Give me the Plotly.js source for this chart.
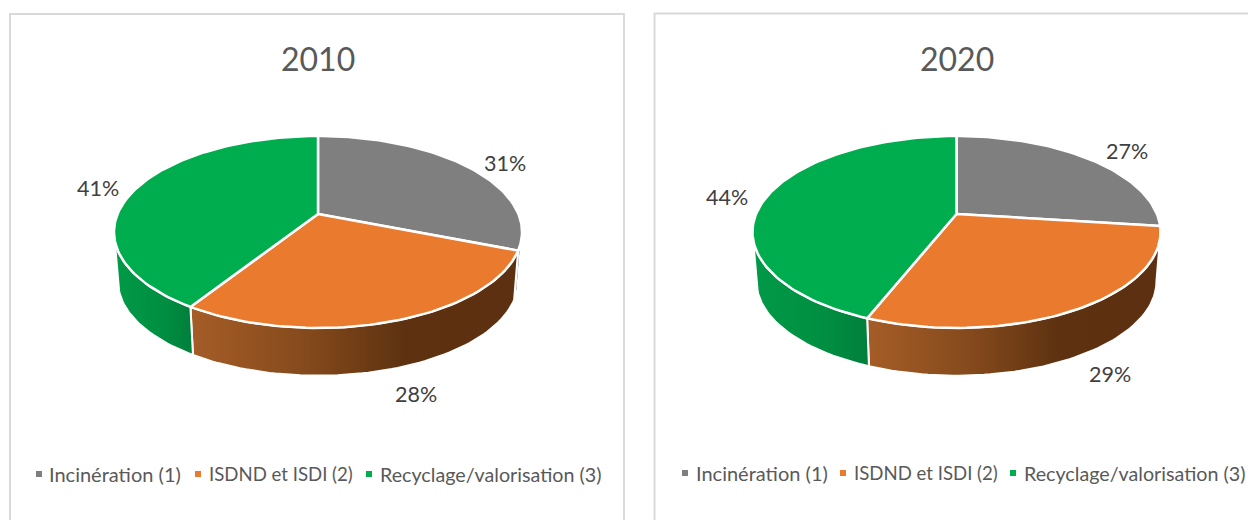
<!DOCTYPE html>
<html><head><meta charset="utf-8">
<script src="https://cdn.plot.ly/plotly-3.0.1.min.js"></script>
<style>html,body{margin:0;padding:0;background:#fff}#c{width:1248px;height:520px}</style></head>
<body><div id="c"></div>
<script>
// Data
const categories = ['Incinération (1)', 'ISDND et ISDI (2)', 'Recyclage/valorisation (3)'];
const years = ['2010', '2020'];
const values2010 = [31, 28, 41];
const values2020 = [27, 29, 44];
const faceColors = ['#7F7F7F', '#EA7A2E', '#00AD4E'];

// Appearance / layout
const legendFontSizes = [20, 18.6, 19.7];
const wallScales = [
  [[0,'#4A4F55'],[1,'#33373B']],
  [[0,'#A55D27'],[0.35,'#854A1C'],[0.65,'#5E3210'],[1,'#5C3010']],
  [[0,'#009A47'],[0.6,'#008F42'],[1,'#007F3B']]
];
const K = 0.1875, SX = 200.4, SY = 92.6;      // perspective of the pie disk
const DEPTH = 50, WALL_SCALE = 0.98;
const panels = [
  {cx:318, cy:214, values:values2010, x0:10, x1:624, y0:14, titleX:318,
   labels:[[505,163],[416,394],[98,188]],
   legendSq:[39,198,369], legendTx:[49,209,380], legendY:474},
  {cx:956.5, cy:214, values:values2020, x0:654.5, x1:1270, y0:13.5, titleX:957,
   labels:[[1127,151],[1110,374],[727,197]],
   legendSq:[685,843,1013], legendTx:[696,854,1024], legendY:473}
];

function project(p, deg, scale, dy){
  const t = deg*Math.PI/180, u = Math.sin(t), v = Math.cos(t), d = 1 + K*v;
  return [p.cx + scale*SX*u/d, p.cy + dy - scale*SY*v/d];
}
function arc(p, a0, a1, scale, dy){
  const n = Math.max(2, Math.ceil(Math.abs(a1-a0)/1.5)), xs=[], ys=[];
  for(let i=0;i<=n;i++){ const q = project(p, a0+(a1-a0)*i/n, scale, dy); xs.push(q[0]); ys.push(q[1]); }
  return [xs, ys];
}
const FRONT0 = Math.acos(-K)*180/Math.PI, FRONT1 = 360-FRONT0;

const traces = [], annotations = [], shapes = [];
panels.forEach(function(p, pi){
  shapes.push({type:'rect', xref:'x', yref:'y', x0:p.x0, x1:p.x1, y0:p.y0, y1:540,
    line:{color:'#D9D9D9', width:2}, fillcolor:'rgba(0,0,0,0)', layer:'below'});
  const total = p.values.reduce(function(a,b){return a+b;},0);
  let acc = 0;
  const ranges = p.values.map(function(v){ const a0 = acc/total*360; acc += v; return [a0, acc/total*360]; });
  // side walls, visible part only
  ranges.forEach(function(r, i){
    const a0 = Math.max(r[0], FRONT0), a1 = Math.min(r[1], FRONT1);
    if(a1 <= a0) return;
    const top = arc(p, a0, a1, 1, 0), bot = arc(p, a1, a0, WALL_SCALE, DEPTH);
    const xs = top[0].concat(bot[0]); const ys = top[1].concat(bot[1]);
    xs.push(xs[0]); ys.push(ys[0]);
    traces.push({type:'scatter', mode:'lines', x:xs, y:ys, fill:'toself', showlegend:false, hoverinfo:'skip',
      line:{color:'#FFFFFF', width:2},
      fillgradient:{type:'horizontal', colorscale:wallScales[i]}});
  });
  // top faces
  ranges.forEach(function(r, i){
    const a = arc(p, r[0], r[1], 1, 0);
    traces.push({type:'scatter', mode:'lines', name:categories[i], showlegend:false, hoverinfo:'name',
      x:[p.cx].concat(a[0],[p.cx]), y:[p.cy].concat(a[1],[p.cy]),
      fill:'toself', fillcolor:faceColors[i], line:{color:'#FFFFFF', width:2.5}});
  });
  // legend squares
  categories.forEach(function(c, i){
    traces.push({type:'scatter', mode:'markers', x:[p.legendSq[i]], y:[p.legendY], name:c, showlegend:false, hoverinfo:'name',
      marker:{symbol:'square', size:6, color:faceColors[i]}});
    annotations.push({xref:'x', yref:'y', x:p.legendTx[i], y:p.legendY, text:c, showarrow:false, xanchor:'left', yanchor:'middle',
      xshift:-2.5, font:{family:'Lato', size:legendFontSizes[i], color:'#595959'}});
    annotations.push({xref:'x', yref:'y', x:p.labels[i][0], y:p.labels[i][1], text:p.values[i]+'%', showarrow:false,
      xanchor:'center', yanchor:'middle', font:{family:'Lato', size:21.5, color:'#404040'}});
  });
  annotations.push({xref:'x', yref:'y', x:p.titleX, y:58, text:years[pi], showarrow:false, xanchor:'center', yanchor:'middle',
    font:{family:'Lato', size:32, color:'#595959'}});
});

const hidden = {visible:false, fixedrange:true};
Plotly.newPlot('c', traces, {
  width:1248, height:520, margin:{l:0,r:0,t:0,b:0},
  paper_bgcolor:'#FFFFFF', plot_bgcolor:'#FFFFFF', showlegend:false,
  xaxis:Object.assign({range:[0,1248]}, hidden),
  yaxis:Object.assign({range:[520,0]}, hidden),
  shapes:shapes, annotations:annotations
}, {displayModeBar:false, staticPlot:true});
</script></body></html>
